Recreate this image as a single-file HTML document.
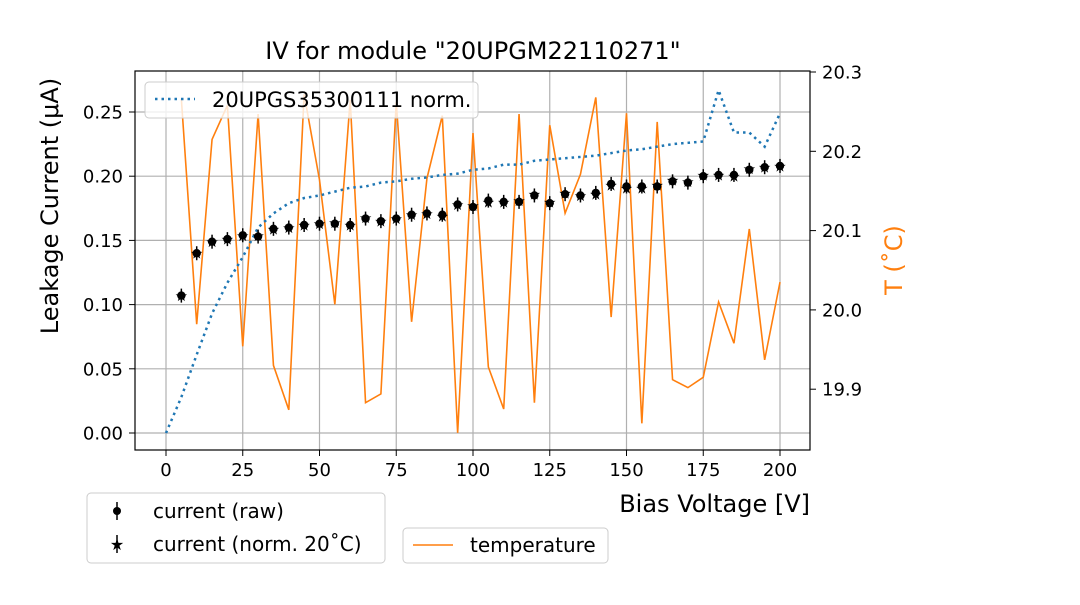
<!DOCTYPE html>
<html><head><meta charset="utf-8"><style>
body{margin:0;background:#fff;}
svg{font-family:"DejaVu Sans","Liberation Sans",sans-serif;}
</style></head><body>
<svg id="chart" width="1080" height="600" viewBox="0 0 1080 600" xmlns="http://www.w3.org/2000/svg">
<g id="grid"></g>
<g id="series"></g>
<rect x="135" y="71" width="675" height="379" fill="none" stroke="#000" stroke-width="1.2"/>
<g id="axes"></g>
<text x="473" y="59" text-anchor="middle" font-size="24">IV for module "20UPGM22110271"</text>
<text x="810" y="512" text-anchor="end" font-size="24">Bias Voltage [V]</text>
<text transform="translate(58,206) rotate(-90)" text-anchor="middle" font-size="24">Leakage Current (μA)</text>
<text transform="translate(902,260) rotate(-90)" text-anchor="middle" font-size="24" fill="#ff7f0e">T (˚C)</text>
<g>
<rect x="145" y="82" width="333" height="36" rx="4" fill="#fff" fill-opacity="0.8" stroke="#ccc"/>
<line x1="155" y1="99" x2="195" y2="99" stroke="#1f77b4" stroke-width="2.5" stroke-dasharray="2.5,4"/>
<text x="212" y="107" font-size="21">20UPGS35300111 norm.</text>
</g>
<g>
<rect x="87" y="493" width="298" height="70" rx="4" fill="#fff" stroke="#ccc"/>
<line x1="117" y1="502" x2="117" y2="520" stroke="#000" stroke-width="1.5"/><circle cx="117" cy="511" r="4" fill="#000"/>
<text x="153" y="518" font-size="20">current (raw)</text>
<line x1="117" y1="535" x2="117" y2="553" stroke="#000" stroke-width="1.5"/><text x="117" y="550" text-anchor="middle" font-size="16">★</text>
<text x="153" y="551" font-size="20">current (norm. 20˚C)</text>
</g>
<g>
<rect x="403" y="528" width="205" height="35" rx="4" fill="#fff" stroke="#ccc"/>
<line x1="413" y1="545" x2="453" y2="545" stroke="#ff7f0e" stroke-width="1.5"/>
<text x="470" y="552" font-size="20">temperature</text>
</g>
</svg>
<script>
const voltages=[5,10,15,20,25,30,35,40,45,50,55,60,65,70,75,80,85,90,95,100,105,110,115,120,125,130,135,140,145,150,155,160,165,170,175,180,185,190,195,200];
const currentRaw=[0.107,0.140,0.149,0.151,0.154,0.153,0.159,0.160,0.162,0.163,0.163,0.162,0.167,0.165,0.167,0.170,0.171,0.170,0.178,0.176,0.181,0.180,0.180,0.185,0.179,0.186,0.185,0.187,0.194,0.192,0.192,0.192,0.196,0.195,0.200,0.201,0.201,0.205,0.207,0.208];
const currentNorm=[0.107,0.140,0.149,0.151,0.154,0.154,0.159,0.160,0.162,0.163,0.164,0.162,0.168,0.165,0.167,0.170,0.171,0.169,0.178,0.177,0.180,0.180,0.181,0.186,0.180,0.187,0.185,0.186,0.193,0.191,0.191,0.193,0.197,0.196,0.201,0.201,0.200,0.206,0.207,0.208];
const temperature=[20.266,19.982,20.215,20.258,19.954,20.247,19.930,19.874,20.272,20.164,20.007,20.265,19.883,19.894,20.262,19.985,20.166,20.245,19.845,20.223,19.928,19.875,20.247,19.883,20.233,20.122,20.171,20.268,19.991,20.248,19.857,20.237,19.912,19.902,19.915,20.010,19.958,20.102,19.937,20.035];
const refVoltages=[0,5,10,15,20,25,30,35,40,45,50,55,60,65,70,75,80,85,90,95,100,105,110,115,120,125,130,135,140,145,150,155,160,165,170,175,180,185,190,195,200];
const refCurrent=[0,0.028,0.061,0.093,0.117,0.137,0.160,0.171,0.179,0.183,0.185,0.188,0.191,0.192,0.195,0.196,0.198,0.199,0.201,0.202,0.205,0.206,0.209,0.209,0.212,0.213,0.214,0.215,0.216,0.218,0.220,0.221,0.223,0.225,0.226,0.227,0.267,0.234,0.234,0.223,0.249];
const xTicks=[0,25,50,75,100,125,150,175,200];
const yTicks=[0,0.05,0.10,0.15,0.20,0.25];
const tTicks=[19.9,20.0,20.1,20.2,20.3];

const NS='http://www.w3.org/2000/svg';
const X=v=>166+v*(780-166)/200;
const Y=c=>433-c*1284;
const T=t=>72+(20.3-t)*793;
function mk(tag,attrs,parent){const e=document.createElementNS(NS,tag);for(const k in attrs)e.setAttribute(k,attrs[k]);parent.appendChild(e);return e;}
const grid=document.getElementById('grid'),axes=document.getElementById('axes'),ser=document.getElementById('series');
xTicks.forEach(v=>{
  const l=mk('line',{x1:X(v),x2:X(v),y1:71,y2:450,stroke:'#b0b0b0','stroke-width':1.2},grid);
  
  
  mk('line',{x1:X(v),x2:X(v),y1:450,y2:456,stroke:'#000'},axes);
  const t=mk('text',{x:X(v),y:476,'text-anchor':'middle','font-size':18},axes);t.textContent=v;
  
  
});
yTicks.forEach(c=>{
  const l=mk('line',{x1:135,x2:810,y1:Y(c),y2:Y(c),stroke:'#b0b0b0','stroke-width':1.2},grid);
  
  
  mk('line',{x1:129,x2:135,y1:Y(c),y2:Y(c),stroke:'#000'},axes);
  const t=mk('text',{x:123,y:Y(c)+6.5,'text-anchor':'end','font-size':18},axes);t.textContent=c.toFixed(2);
  
  
});
tTicks.forEach(tv=>{
  mk('line',{x1:810,x2:816,y1:T(tv),y2:T(tv),stroke:'#000'},axes);
  const t=mk('text',{x:822,y:T(tv)+6.5,'font-size':18},axes);t.textContent=tv.toFixed(1);
  
  
});
const tl=mk('polyline',{points:voltages.map((v,i)=>X(v)+','+T(temperature[i])).join(' '),fill:'none',stroke:'#ff7f0e','stroke-width':1.6},ser);


const rl=mk('polyline',{points:refVoltages.map((v,i)=>X(v)+','+Y(refCurrent[i])).join(' '),fill:'none',stroke:'#1f77b4','stroke-width':2.5,'stroke-dasharray':'2.5,4'},ser);


voltages.forEach((v,i)=>{
  const eb=mk('line',{x1:X(v),x2:X(v),y1:Y(currentRaw[i])-7,y2:Y(currentRaw[i])+7,stroke:'#000','stroke-width':1.5},ser);
  
  
  const c=mk('circle',{cx:X(v),cy:Y(currentRaw[i]),r:4.2,fill:'#000'},ser);
  
  
  const s=mk('text',{x:X(v),y:Y(currentNorm[i])+5.5,'text-anchor':'middle','font-size':15,fill:'#000'},ser);s.textContent='★';
  
  
});
</script>
</body></html>
